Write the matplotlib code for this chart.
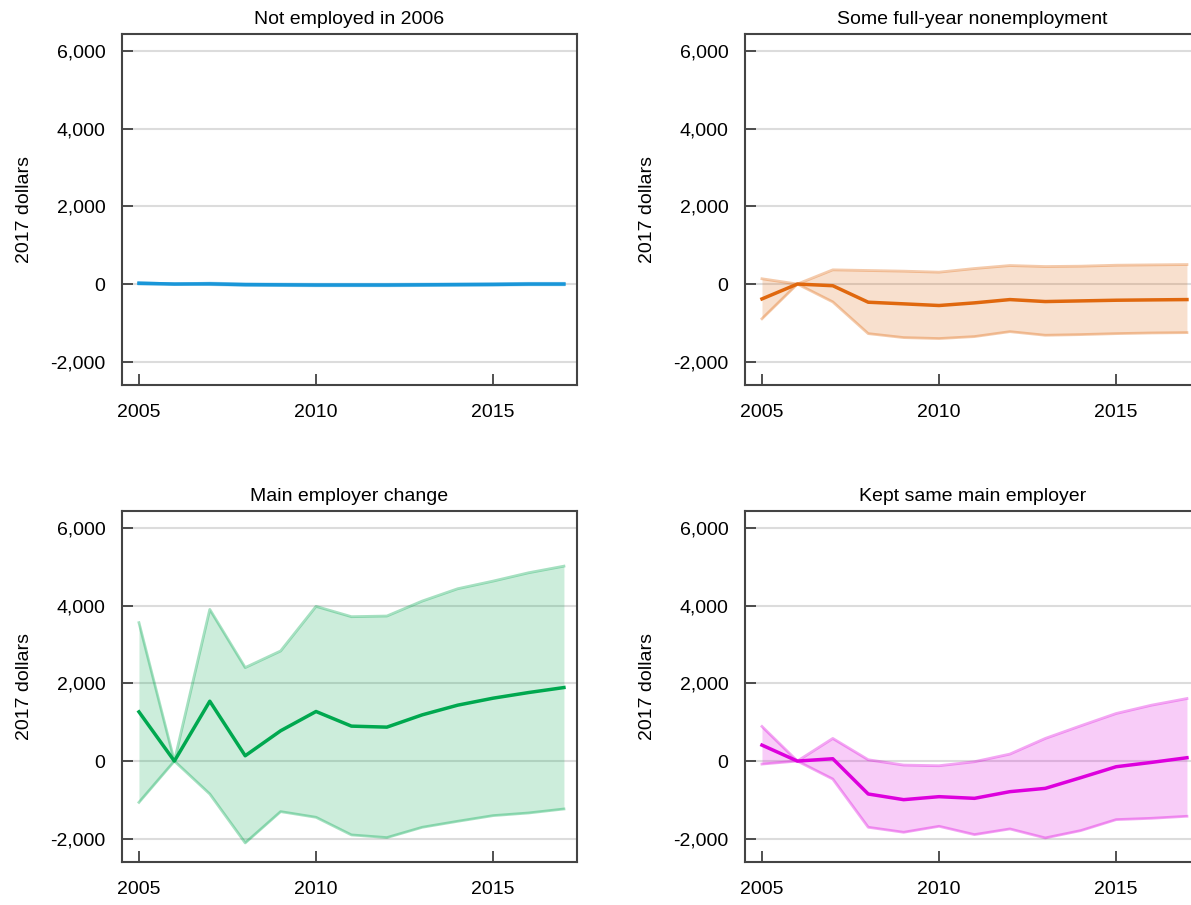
# earnings change by 2006 employment status, four panels

import matplotlib.pyplot as plt

plt.rcParams['font.family'] = ['Liberation Sans', 'DejaVu Sans']

years = [2005, 2006, 2007, 2008, 2009, 2010, 2011, 2012, 2013, 2014, 2015, 2016, 2017]

titles = ["Not employed in 2006", "Some full-year nonemployment",
          "Main employer change", "Kept same main employer"]

# panel 1: not employed in 2006
ne_mean = [20, 0, 5, -15, -20, -25, -25, -25, -20, -15, -10, 0, 0]
ne_low = [0, 0, -15, -35, -40, -45, -45, -45, -40, -35, -30, -20, -20]
ne_high = [40, 0, 25, 5, 0, -5, -5, -5, 0, 5, 10, 20, 20]

# panel 2: some full-year nonemployment
fy_mean = [-383, 0, -43, -468, -510, -553, -485, -400, -451, -434, -417, -408, -400]
fy_low = [-894, 0, -460, -1277, -1379, -1404, -1353, -1226, -1319, -1302, -1277, -1260, -1251]
fy_high = [136, 0, 366, 349, 332, 306, 400, 477, 451, 460, 485, 494, 502]

# panel 3: main employer change
mc_mean = [1268, 0, 1542, 137, 780, 1277, 900, 874, 1191, 1440, 1620, 1765, 1894]
mc_low = [-1063, 0, -848, -2108, -1302, -1448, -1902, -1971, -1705, -1551, -1405, -1337, -1234]
mc_high = [3565, 0, 3907, 2408, 2836, 3985, 3719, 3736, 4122, 4439, 4636, 4850, 5021]

# panel 4: kept same main employer
ks_mean = [411, 0, 60, -848, -994, -917, -960, -788, -703, -428, -146, -34, 86]
ks_low = [-77, 0, -463, -1705, -1834, -1680, -1894, -1748, -1980, -1791, -1508, -1474, -1422]
ks_high = [891, 0, 583, 34, -103, -120, -17, 180, 583, 908, 1225, 1440, 1611]

means = [ne_mean, fy_mean, mc_mean, ks_mean]
lows = [ne_low, fy_low, mc_low, ks_low]
highs = [ne_high, fy_high, mc_high, ks_high]
colors = ['#1996d8', '#e0680e', '#00a84f', '#dd00dd']

yticks = [-2000, 0, 2000, 4000, 6000]
xticks = [2005, 2010, 2015]

fig = plt.figure(figsize=(11.91, 9.05), dpi=100)

w = 0.3821
h = 0.3878
positions = [(0.1024, 0.5746), (0.6255, 0.5746), (0.1024, 0.0475), (0.6255, 0.0475)]

for i in range(4):
    ax = fig.add_axes([positions[i][0], positions[i][1], w, h])
    c = colors[i]
    ax.fill_between(years, lows[i], highs[i], color=c, alpha=0.2, linewidth=0)
    ax.plot(years, lows[i], color=c, alpha=0.35, linewidth=2)
    ax.plot(years, highs[i], color=c, alpha=0.35, linewidth=2)
    ax.plot(years, means[i], color=c, linewidth=2.5)
    ax.set_xlim(2004.52, 2017.37)
    ax.set_ylim(-2600, 6440)
    ax.set_yticks(yticks)
    ax.set_yticklabels([f"{v:,}" for v in yticks])
    ax.set_xticks(xticks)
    ax.grid(axis='y', color='#dcdcdc', linewidth=1.5)
    ax.set_axisbelow(True)
    ax.tick_params(direction='in', length=8, width=1.2, labelsize=14,
                   colors='#333333', labelcolor='black', pad=12)
    ax.tick_params(axis='x', pad=14)
    for s in ax.spines.values():
        s.set_color('#444444')
        s.set_linewidth(1.5)
    ax.set_title(titles[i], fontsize=14, pad=7)
    ax.set_ylabel("2017 dollars", fontsize=14, labelpad=12)

plt.savefig("out.png", dpi=100)
